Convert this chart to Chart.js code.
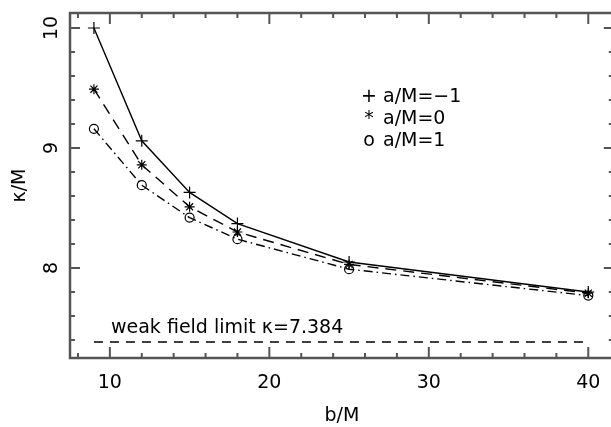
<!DOCTYPE html>
<html lang="en">
<head>
    <meta charset="UTF-8" />
    <title>kappa vs b</title>
    <style>
        html, body {
            margin: 0;
            padding: 0;
            overflow: hidden;
            background: #fff;
        }

        #box {
            width: 611px;
            height: 427px;
            overflow: hidden;
            position: relative;
        }

        #chart {
            position: absolute;
            left: 0;
            top: 0;
        }
    </style>
    <script src="https://cdn.jsdelivr.net/npm/chart.js"></script>
</head>

<body>
    <!-- canvas is a bit wider than the box so the right frame falls just outside, as in the original -->
    <div id="box"><canvas id="chart" width="621" height="427"></canvas></div>

    <script>
        // impact parameter b/M
        const bValues = [9, 12, 15, 18, 25, 40];
        // kappa/M for each spin a/M
        const kappaSpinMinus1 = [10.0, 9.06, 8.63, 8.37, 8.05, 7.80];
        const kappaSpin0 = [9.49, 8.86, 8.51, 8.30, 8.03, 7.79];
        const kappaSpin1 = [9.16, 8.69, 8.42, 8.24, 7.99, 7.77];
        // weak field limit line
        const weakLimit = 7.384;
        const weakRange = [9, 40];

        const legendItems = [
            { symbol: "+", text: "a/M=\u22121" },
            { symbol: "*", text: "a/M=0" },
            { symbol: "o", text: "a/M=1" }
        ];

        const FONT = "'DejaVu Sans', sans-serif";
        const INK = "#000";
        const FRAME = "#555";

        function toPoints(ys) {
            return bValues.map((b, i) => ({ x: b, y: ys[i] }));
        }

        // frame, inward ticks, rotated y labels, legend and note
        const framePlugin = {
            id: 'frame',
            afterDraw(chart) {
                const ctx = chart.ctx;
                const area = chart.chartArea;
                const xs = chart.scales.x;
                const ys = chart.scales.y;

                ctx.save();
                ctx.strokeStyle = FRAME;
                ctx.lineWidth = 2.5;
                ctx.strokeRect(area.left, area.top, area.right - area.left, area.bottom - area.top);

                ctx.lineWidth = 2;
                ctx.beginPath();
                for (let v = 8; v <= xs.max; v += 2) {
                    const px = xs.getPixelForValue(v);
                    const len = v % 10 === 0 ? 11 : 5;
                    ctx.moveTo(px, area.bottom);
                    ctx.lineTo(px, area.bottom - len);
                    ctx.moveTo(px, area.top);
                    ctx.lineTo(px, area.top + len);
                }
                for (let i = Math.ceil(ys.min * 5); i <= Math.floor(ys.max * 5); i++) {
                    const v = i / 5;
                    const py = ys.getPixelForValue(v);
                    const len = i % 5 === 0 ? 10 : 5;
                    ctx.moveTo(area.left, py);
                    ctx.lineTo(area.left + len, py);
                    ctx.moveTo(area.right, py);
                    ctx.lineTo(area.right - len, py);
                }
                ctx.stroke();

                // y tick labels, rotated
                ctx.fillStyle = INK;
                ctx.font = "19px " + FONT;
                ctx.textAlign = "center";
                ctx.textBaseline = "middle";
                ys.ticks.forEach(t => {
                    const py = ys.getPixelForValue(t.value);
                    ctx.save();
                    ctx.translate(area.left - 18, py);
                    ctx.rotate(-Math.PI / 2);
                    ctx.fillText(String(t.value), 0, 0);
                    ctx.restore();
                });

                // legend
                ctx.font = "19px " + FONT;
                legendItems.forEach((item, i) => {
                    const y = 97 + i * 22;
                    ctx.textAlign = "center";
                    ctx.fillText(item.symbol, 369, y);
                    ctx.textAlign = "left";
                    ctx.fillText(item.text, 383, y);
                });

                // weak field note
                ctx.textAlign = "left";
                ctx.fillText("weak field limit \u03ba=" + weakLimit, 111, 328);
                ctx.restore();
            }
        };

        const config = {
            type: 'line',
            data: {
                datasets: [
                    {
                        data: toPoints(kappaSpinMinus1),
                        borderColor: INK,
                        borderWidth: 1.4,
                        pointStyle: 'cross',
                        pointRadius: 6,
                        pointBorderColor: INK,
                        pointBorderWidth: 1.2
                    },
                    {
                        data: toPoints(kappaSpin0),
                        borderColor: INK,
                        borderWidth: 1.4,
                        borderDash: [11, 7],
                        pointStyle: 'star',
                        pointRadius: 5,
                        pointBorderColor: INK,
                        pointBorderWidth: 1.2
                    },
                    {
                        data: toPoints(kappaSpin1),
                        borderColor: INK,
                        borderWidth: 1.4,
                        borderDash: [9, 4, 1.5, 4],
                        pointStyle: 'circle',
                        pointRadius: 4.5,
                        pointBackgroundColor: 'rgba(0,0,0,0)',
                        pointBorderColor: INK,
                        pointBorderWidth: 1.2
                    },
                    {
                        data: weakRange.map(b => ({ x: b, y: weakLimit })),
                        borderColor: INK,
                        borderWidth: 1.5,
                        borderDash: [9, 7],
                        pointRadius: 0
                    }
                ]
            },
            options: {
                responsive: false,
                animation: false,
                devicePixelRatio: 1,
                layout: {
                    padding: { top: 13, right: 3, left: 0, bottom: 0 }
                },
                plugins: {
                    legend: { display: false },
                    tooltip: { enabled: false }
                },
                scales: {
                    x: {
                        type: 'linear',
                        min: 7.5,
                        max: 41.6,
                        grid: { display: false },
                        border: { display: false },
                        ticks: {
                            stepSize: 10,
                            includeBounds: false,
                            color: INK,
                            font: { family: FONT, size: 19 },
                            padding: 6,
                            maxRotation: 0
                        },
                        title: {
                            display: true,
                            text: 'b/M',
                            color: INK,
                            font: { family: FONT, size: 19 },
                            padding: { top: 3, bottom: 0 }
                        },
                        afterFit(scale) { scale.height = 69; }
                    },
                    y: {
                        min: 7.25,
                        max: 10.125,
                        grid: { display: false },
                        border: { display: false },
                        ticks: {
                            stepSize: 1,
                            includeBounds: false,
                            display: false
                        },
                        title: {
                            display: true,
                            text: '\u03ba/M',
                            color: INK,
                            font: { family: FONT, size: 19 },
                            padding: { top: 9, bottom: 0 }
                        },
                        afterFit(scale) { scale.width = 70; }
                    }
                }
            },
            plugins: [framePlugin]
        };

        new Chart(document.getElementById('chart'), config);
    </script>
</body>
</html>
